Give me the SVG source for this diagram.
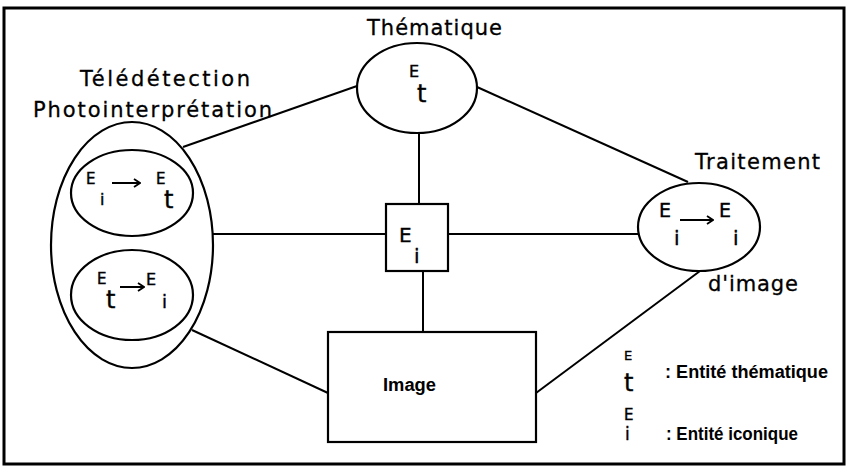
<svg xmlns="http://www.w3.org/2000/svg" width="848" height="468" viewBox="0 0 848 468">
  <defs>
    <marker id="head" markerWidth="8" markerHeight="10" refX="7" refY="5" orient="auto" markerUnits="userSpaceOnUse">
      <path d="M1,1 L7,5 L1,9" fill="none" stroke="#000" stroke-width="1.8"/>
    </marker>
    <style>
      .shape { fill: #fff; stroke: #000; stroke-width: 2.2; }
      .edge { fill: none; stroke: #000; stroke-width: 2; }
      .arrow { fill: none; stroke: #000; stroke-width: 2; marker-end: url(#head); }
      .lab { font-family: "DejaVu Sans", "Liberation Sans", sans-serif; font-size: 21px; fill: #000; stroke: #000; stroke-width: 0.3; }
      .leg { font-family: "Liberation Sans", Arial, sans-serif; font-size: 18px; font-weight: bold; fill: #000; }
      .sym { font-family: "DejaVu Sans", "Liberation Sans", sans-serif; fill: #000; stroke: #000; stroke-width: 0.4; }
    </style>
  </defs>

  <rect width="848" height="468" fill="#fff"/>
  <!-- outer frame -->
  <rect x="4" y="8" width="840" height="456" fill="none" stroke="#000" stroke-width="3"/>

  <!-- connectors -->
  <g id="connectors">
    <line class="edge" x1="183" y1="147" x2="357" y2="86"/>
    <line class="edge" x1="477" y1="87" x2="688" y2="182"/>
    <line class="edge" x1="419" y1="133" x2="419" y2="204"/>
    <line class="edge" x1="213" y1="234" x2="386" y2="234"/>
    <line class="edge" x1="448" y1="234" x2="638" y2="234"/>
    <line class="edge" x1="423" y1="271" x2="423" y2="332"/>
    <line class="edge" x1="192" y1="330" x2="328" y2="393"/>
    <line class="edge" x1="700" y1="271" x2="536" y2="393"/>
  </g>

  <!-- Thématique -->
  <g id="thematique">
    <text class="lab" x="367" y="35" textLength="135" lengthAdjust="spacing">Thématique</text>
    <ellipse class="shape" cx="417" cy="88" rx="60" ry="45"/>
    <text class="sym" x="409" y="77" font-size="16">E</text>
    <text class="sym" x="417" y="102" font-size="24">t</text>
  </g>

  <!-- Télédétection / Photointerprétation -->
  <g id="teledetection">
    <text class="lab" x="80" y="86" textLength="170" lengthAdjust="spacing">Télédétection</text>
    <text class="lab" x="33" y="117" textLength="239" lengthAdjust="spacing">Photointerprétation</text>
    <ellipse class="shape" cx="132" cy="245" rx="81" ry="123"/>
    <g id="image-to-theme">
      <ellipse class="shape" cx="132" cy="193" rx="61" ry="43"/>
      <text class="sym" x="86" y="184" font-size="15">E</text>
      <text class="sym" x="100" y="205" font-size="16">i</text>
      <line class="arrow" x1="112" y1="183" x2="140" y2="183"/>
      <text class="sym" x="156" y="184" font-size="15">E</text>
      <text class="sym" x="164" y="208" font-size="24">t</text>
    </g>
    <g id="theme-to-image">
      <ellipse class="shape" cx="132" cy="295" rx="61" ry="45"/>
      <text class="sym" x="97" y="284" font-size="15">E</text>
      <text class="sym" x="106" y="308" font-size="24">t</text>
      <line class="arrow" x1="120" y1="287" x2="144" y2="287"/>
      <text class="sym" x="146" y="285" font-size="16">E</text>
      <text class="sym" x="162" y="308" font-size="18">i</text>
    </g>
  </g>

  <!-- Entité iconique -->
  <g id="entite-iconique">
    <rect class="shape" x="386" y="204" width="62" height="67"/>
    <text class="sym" x="399" y="242" font-size="20">E</text>
    <text class="sym" x="414" y="263" font-size="20">i</text>
  </g>

  <!-- Traitement d'image -->
  <g id="traitement">
    <text class="lab" x="695" y="169" textLength="125" lengthAdjust="spacing">Traitement</text>
    <ellipse class="shape" cx="699" cy="227" rx="61" ry="44"/>
    <text class="sym" x="659" y="217" font-size="19">E</text>
    <text class="sym" x="674" y="245" font-size="20">i</text>
    <line class="arrow" x1="680" y1="220" x2="713" y2="220"/>
    <text class="sym" x="719" y="217" font-size="19">E</text>
    <text class="sym" x="733" y="245" font-size="20">i</text>
    <text class="lab" x="708" y="291" textLength="90" lengthAdjust="spacing">d'image</text>
  </g>

  <!-- Image -->
  <g id="image">
    <rect class="shape" x="328" y="332" width="208" height="110"/>
    <text class="leg" x="383" y="391" font-size="16" textLength="53" lengthAdjust="spacingAndGlyphs">Image</text>
  </g>

  <!-- legend -->
  <g id="legend">
    <text class="sym" x="624" y="360" font-size="13">E</text>
    <text class="sym" x="624" y="391" font-size="24">t</text>
    <text class="leg" x="665" y="378" textLength="163" lengthAdjust="spacingAndGlyphs">: Entité thématique</text>
    <text class="sym" x="624" y="420" font-size="15">E</text>
    <text class="sym" x="625" y="440" font-size="17">i</text>
    <text class="leg" x="666" y="440" textLength="132" lengthAdjust="spacingAndGlyphs">: Entité iconique</text>
  </g>
</svg>
